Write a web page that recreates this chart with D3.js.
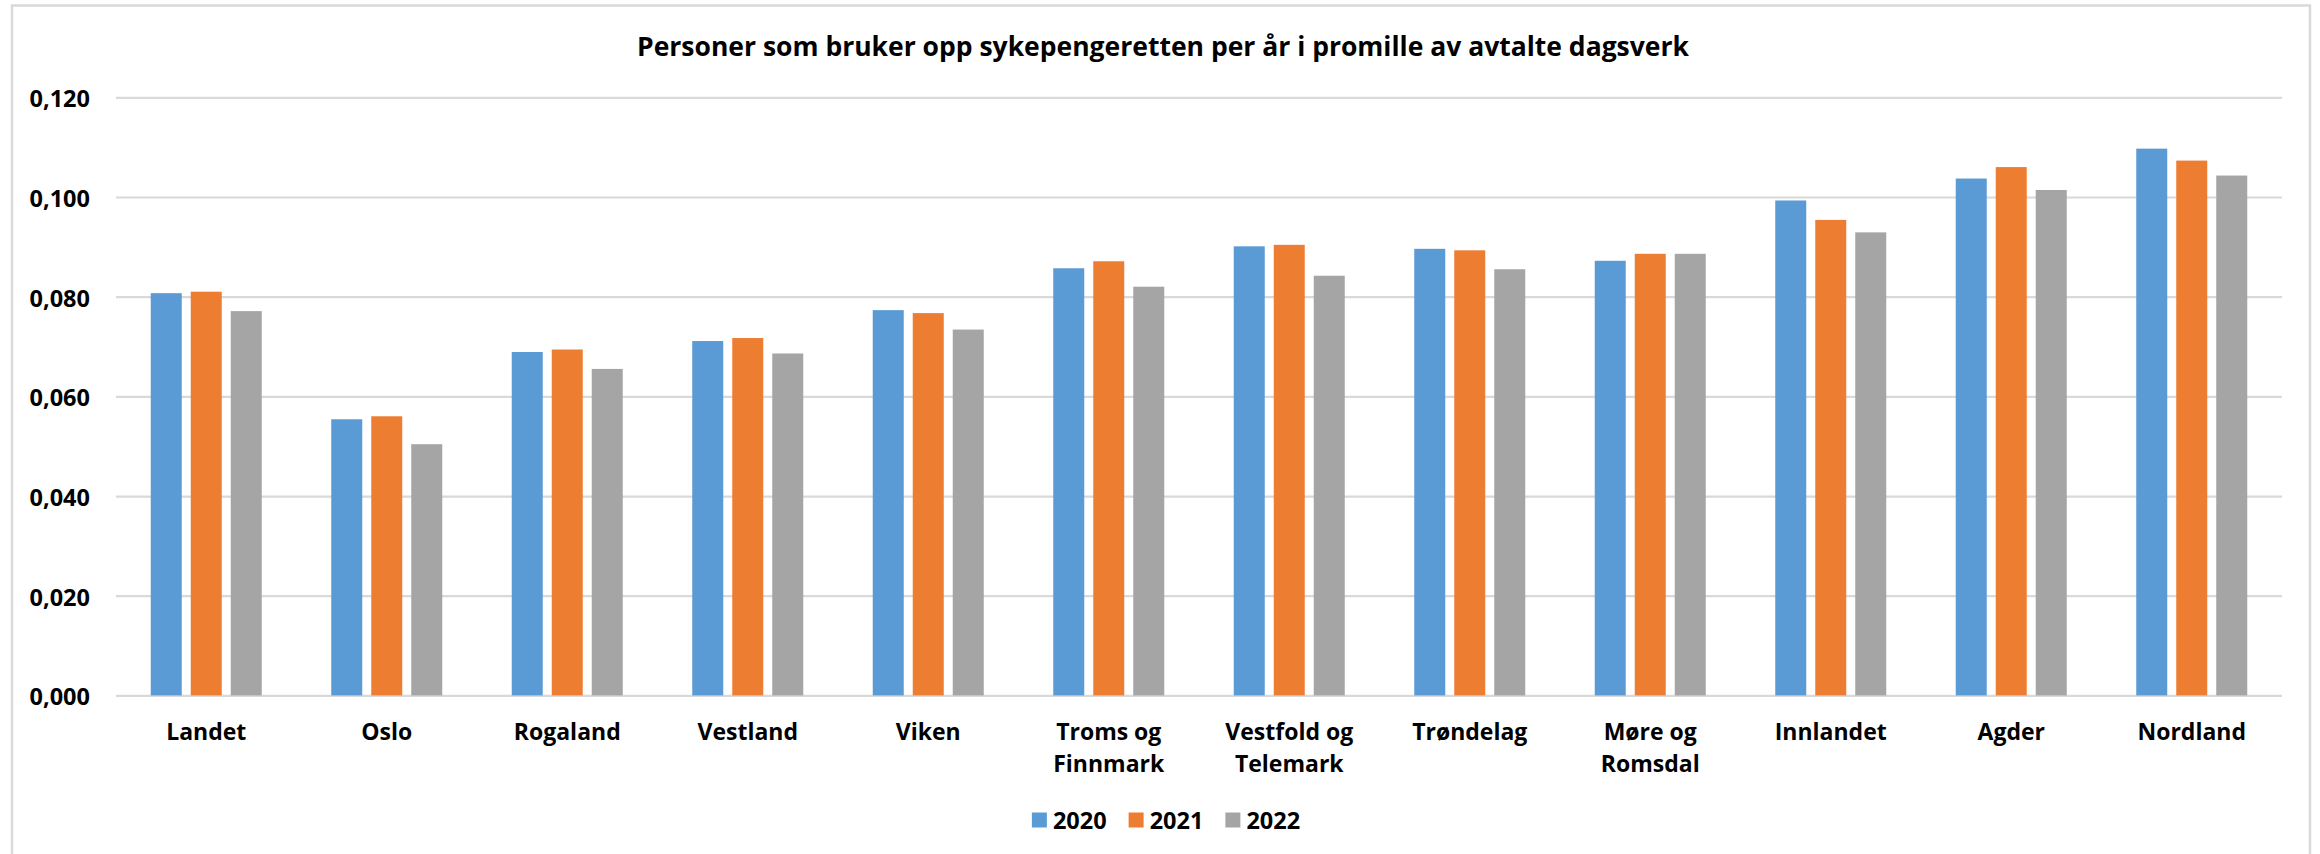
<!DOCTYPE html>
<html lang="no">
<head>
<meta charset="utf-8">
<title>Personer som bruker opp sykepengeretten</title>
<script src="https://cdn.jsdelivr.net/npm/d3@7"></script>
<style>
  html, body { margin: 0; padding: 0; background: #fff; }
  svg { display: block; font-family: "Open Sans", "Noto Sans", sans-serif; font-weight: 700; }
</style>
</head>
<body>
<svg id="chart" width="2320" height="854"></svg>
<script>
// Fylker / regioner
const categories = ["Landet", "Oslo", "Rogaland", "Vestland", "Viken", "Troms og Finnmark",
  "Vestfold og Telemark", "Trøndelag", "Møre og Romsdal", "Innlandet", "Agder", "Nordland"];

const years = ["2020", "2021", "2022"];

// Personer som bruker opp sykepengeretten per år, promille av avtalte dagsverk
const values2020 = [0.0807, 0.0554, 0.0689, 0.0711, 0.0773, 0.0857, 0.0901, 0.0896, 0.0872, 0.0993, 0.1037, 0.1097];
const values2021 = [0.0810, 0.0560, 0.0694, 0.0717, 0.0767, 0.0871, 0.0904, 0.0893, 0.0886, 0.0954, 0.1060, 0.1073];
const values2022 = [0.0771, 0.0504, 0.0655, 0.0686, 0.0734, 0.0820, 0.0842, 0.0855, 0.0886, 0.0929, 0.1014, 0.1043];

const yTicks = [0, 0.02, 0.04, 0.06, 0.08, 0.10, 0.12];
const colors = ["#5B9BD5", "#ED7D31", "#A5A5A5"];
const title = "Personer som bruker opp sykepengeretten per år i promille av avtalte dagsverk";

const seriesValues = [values2020, values2021, values2022];
const rows = categories.map((c, i) => ({ category: c, values: years.map((y, j) => ({ year: y, value: seriesValues[j][i] })) }));

const svg = d3.select("#chart");
const W = 2320;
const plot = { left: 116, right: 2282, top: 97.3, bottom: 695.4 };

svg.append("rect").attr("width", W).attr("height", 854).attr("fill", "#fff");

// chart frame
svg.append("rect")
  .attr("x", 12).attr("y", 5.5).attr("width", 2298).attr("height", 870)
  .attr("fill", "none").attr("stroke", "#D9D9D9").attr("stroke-width", 2.5);

const x0 = d3.scaleBand().domain(categories).range([plot.left, plot.right])
  .paddingInner(0.385).paddingOuter(0.1925);
const x1 = d3.scaleBand().domain(years).range([0, x0.bandwidth()]).paddingInner(0.225).paddingOuter(0);
const y = d3.scaleLinear().domain([0, 0.12]).range([plot.bottom, plot.top]);
const color = d3.scaleOrdinal().domain(years).range(colors);

const nb = d3.formatLocale({ decimal: ",", thousands: " ", grouping: [3], currency: ["", " kr"] });
const fmt = nb.format(".3f");

// y axis with gridlines
const yAxis = svg.append("g")
  .attr("transform", `translate(${plot.left},0)`)
  .call(d3.axisLeft(y).tickValues(yTicks).tickFormat(fmt).tickSize(-(plot.right - plot.left)).tickPadding(26));
yAxis.select(".domain").remove();
yAxis.selectAll(".tick line").attr("stroke", "#D9D9D9").attr("stroke-width", 2.2);
yAxis.selectAll(".tick text")
  .attr("fill", "#000").attr("font-size", 23.5).attr("font-family", "'Open Sans', sans-serif")
  .attr("font-weight", 700).attr("dy", "0.4em");

// bars
const groups = svg.append("g").selectAll("g").data(rows).join("g")
  .attr("transform", d => `translate(${x0(d.category)},0)`);
groups.selectAll("rect").data(d => d.values).join("rect")
  .attr("x", d => x1(d.year))
  .attr("y", d => y(d.value))
  .attr("width", x1.bandwidth())
  .attr("height", d => y(0) - y(d.value))
  .attr("fill", d => color(d.year));

// category labels (split after "og")
const xLabels = svg.append("g").selectAll("text").data(categories).join("text")
  .attr("x", d => x0(d) + x0.bandwidth() / 2)
  .attr("y", 740)
  .attr("text-anchor", "middle")
  .attr("font-size", 23)
  .attr("fill", "#000");
xLabels.each(function(d) {
  const t = d3.select(this);
  const m = d.match(/^(.* og) (.*)$/);
  const lines = m ? [m[1], m[2]] : [d];
  lines.forEach((line, i) => {
    t.append("tspan").attr("x", x0(d) + x0.bandwidth() / 2).attr("dy", i === 0 ? 0 : 32).text(line);
  });
});

// title
svg.append("text")
  .attr("x", 1163).attr("y", 56)
  .attr("text-anchor", "middle")
  .attr("font-size", 26.5)
  .attr("fill", "#000")
  .text(title);

// legend
const legend = svg.append("g");
let lx = 0;
years.forEach((yr, i) => {
  const g = legend.append("g").attr("transform", `translate(${lx},0)`);
  g.append("rect").attr("x", 0).attr("y", -7.5).attr("width", 15).attr("height", 15).attr("fill", color(yr));
  const t = g.append("text").attr("x", 21).attr("y", 9).attr("font-size", 23.5).attr("fill", "#000").text(yr);
  lx += 21 + t.node().getComputedTextLength() + 22;
});
const legendWidth = lx - 22;
legend.attr("transform", `translate(${1166 - legendWidth / 2},820)`);
</script>
</body>
</html>
